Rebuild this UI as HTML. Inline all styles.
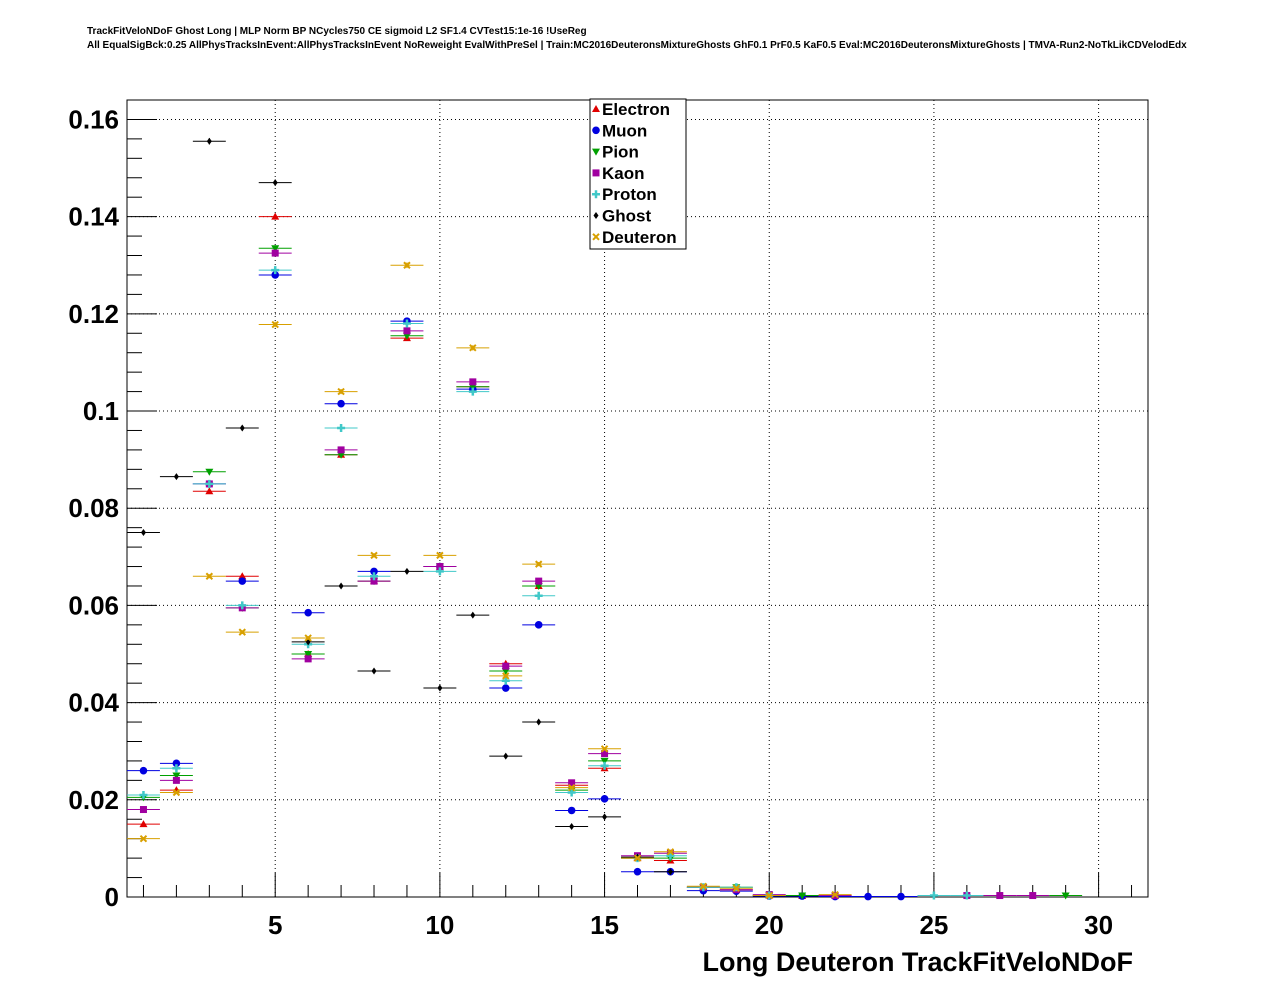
<!DOCTYPE html>
<html><head><meta charset="utf-8">
<style>
html,body{margin:0;padding:0;background:#fff;}
svg{display:block;font-family:"Liberation Sans",Arial,sans-serif;}
</style></head>
<body>
<svg id="c" width="1276" height="996" viewBox="0 0 1276 996">
<text x="87" y="34" font-size="10" font-weight="bold">TrackFitVeloNDoF Ghost Long | MLP Norm BP NCycles750 CE sigmoid L2 SF1.4 CVTest15:1e-16 !UseReg</text>
<text x="87" y="48" font-size="10" font-weight="bold">All EqualSigBck:0.25 AllPhysTracksInEvent:AllPhysTracksInEvent NoReweight EvalWithPreSel | Train:MC2016DeuteronsMixtureGhosts GhF0.1 PrF0.5 KaF0.5 Eval:MC2016DeuteronsMixtureGhosts | TMVA-Run2-NoTkLikCDVelodEdx</text>
<g id="grid"></g>
<g id="axes"></g>
<g id="marks"></g>
<g id="legend"></g>
<text x="1133" y="971" font-size="27" font-weight="bold" text-anchor="end">Long Deuteron TrackFitVeloNDoF</text>
</svg>
<script>
const bins = [1,2,3,4,5,6,7,8,9,10,11,12,13,14,15,16,17,18,19,20,21,22,23,24,25,26,27,28,29];
const electron = [0.015,0.022,0.0835,0.066,0.14,0.050,0.091,0.065,0.115,0.068,0.105,0.048,0.064,0.023,0.0265,0.008,0.0075,0.002,0.0015,0.0003,0.0002,0.0003,0,0,0,0,0,0,0];
const muon = [0.026,0.0275,0.085,0.065,0.128,0.0585,0.1015,0.067,0.1185,0.068,0.1045,0.043,0.056,0.0178,0.0202,0.0052,0.0052,0.0013,0.0012,0.0002,0.0002,0.0001,0.0001,0.0001,0,0,0,0,0];
const pion = [0.0205,0.025,0.0875,0.0595,0.1335,0.050,0.091,0.065,0.1155,0.068,0.105,0.0465,0.064,0.022,0.028,0.008,0.008,0.002,0.002,0.0003,0.0003,0,0,0,0,0,0,0,0.0003];
const kaon = [0.018,0.024,0.085,0.0595,0.1325,0.049,0.092,0.065,0.1165,0.068,0.106,0.0475,0.065,0.0235,0.0295,0.0085,0.009,0.002,0.0015,0.0005,0,0.0003,0,0,0,0.0003,0.0003,0.0003,0];
const proton = [0.021,0.0265,0.085,0.060,0.129,0.052,0.0965,0.066,0.118,0.067,0.104,0.0445,0.062,0.0215,0.027,0.008,0.0085,0.002,0.002,0.0003,0,0,0,0,0.0003,0.0003,0,0,0];
const ghost = [0.075,0.0865,0.1555,0.0965,0.147,0.0525,0.064,0.0465,0.067,0.043,0.058,0.029,0.036,0.0145,0.0165,0.0082,0.0052,0,0,0,0,0,0,0,0,0,0,0,0];
const deuteron = [0.012,0.0215,0.066,0.0545,0.1178,0.0533,0.104,0.0703,0.130,0.0703,0.113,0.0455,0.0685,0.0225,0.0305,0.008,0.0093,0.0022,0.0018,0.0003,0,0.0005,0,0,0,0,0,0,0];
const xTicks = [5,10,15,20,25,30];
const yTicks = [0,0.02,0.04,0.06,0.08,0.1,0.12,0.14,0.16];
const yTickLabels = ["0","0.02","0.04","0.06","0.08","0.1","0.12","0.14","0.16"];
const seriesNames = ["Electron","Muon","Pion","Kaon","Proton","Ghost","Deuteron"];

const NS="http://www.w3.org/2000/svg";
const L=127,R=1148,T=100,B=897;
const xmin=0.5,xmax=31.5,ymin=0,ymax=0.164;
const X=v=>L+(v-xmin)/(xmax-xmin)*(R-L);
const Y=v=>B-(v-ymin)/(ymax-ymin)*(B-T);
function el(tag,attrs,parent){const e=document.createElementNS(NS,tag);for(const k in attrs)e.setAttribute(k,attrs[k]);parent.appendChild(e);return e;}
const grid=document.getElementById('grid'),axes=document.getElementById('axes'),marks=document.getElementById('marks'),legend=document.getElementById('legend');

xTicks.forEach(t=>{const g=el('line',{x1:X(t),x2:X(t),y1:T,y2:B,stroke:'#000','stroke-width':1,'stroke-dasharray':'1,3'},grid);

});
yTicks.forEach(t=>{if(t===0)return;const g=el('line',{x1:L,x2:R,y1:Y(t),y2:Y(t),stroke:'#000','stroke-width':1,'stroke-dasharray':'1,3'},grid);

});

const frame=el('rect',{x:L,y:T,width:R-L,height:B-T,fill:'none',stroke:'#000','stroke-width':1},axes);


for(let v=1;v<=31;v++){const big=v%5===0;el('line',{x1:X(v),x2:X(v),y1:B,y2:B-(big?24:12),stroke:'#000'},axes);}
xTicks.forEach(t=>{const tx=el('text',{x:X(t),y:934,'font-size':26,'font-weight':'bold','text-anchor':'middle'},axes);tx.textContent=t;

});
for(let v=0;v<=0.164;v+=0.004){const big=Math.abs(v/0.02-Math.round(v/0.02))<1e-6;el('line',{x1:L,x2:L+(big?30:15),y1:Y(v),y2:Y(v),stroke:'#000'},axes);}
yTicks.forEach((t,i)=>{const tx=el('text',{x:119,y:Y(t)+9,'font-size':26,'font-weight':'bold','text-anchor':'end'},axes);tx.textContent=yTickLabels[i];

});

const colors=['#e00000','#0000e0','#00a000','#a000a0','#40c8c8','#000000','#d8a000'];
const data=[electron,muon,pion,kaon,proton,ghost,deuteron];
function marker(i,cx,cy,p){
 const c=colors[i];let m;
 if(i===0)m=el('polygon',{points:`${cx},${cy-4} ${cx-4},${cy+3} ${cx+4},${cy+3}`,fill:c},p);
 else if(i===1)m=el('circle',{cx,cy,r:3.8,fill:c},p);
 else if(i===2)m=el('polygon',{points:`${cx},${cy+4} ${cx-4},${cy-3} ${cx+4},${cy-3}`,fill:c},p);
 else if(i===3)m=el('rect',{x:cx-3.5,y:cy-3.5,width:7,height:7,fill:c},p);
 else if(i===4)m=el('path',{d:`M${cx-4} ${cy}H${cx+4}M${cx} ${cy-4}V${cy+4}`,stroke:c,'stroke-width':2.5},p);
 else if(i===5)m=el('polygon',{points:`${cx},${cy-3.5} ${cx-2.5},${cy} ${cx},${cy+3.5} ${cx+2.5},${cy}`,fill:c},p);
 else m=el('path',{d:`M${cx-3} ${cy-3}L${cx+3} ${cy+3}M${cx-3} ${cy+3}L${cx+3} ${cy-3}`,stroke:c,'stroke-width':2},p);
 return m;
}
data.forEach((arr,i)=>{
 const g=el('g',{},marks);
 
 
 arr.forEach((v,j)=>{
  const b=bins[j];
  if(v<=0)return;
  const y=Y(v);
  el('line',{x1:X(b-0.5),x2:X(b+0.5),y1:y,y2:y,stroke:colors[i],'stroke-width':1},g);
  const e=Math.max(1.5,Math.sqrt(v)*8);
  el('line',{x1:X(b),x2:X(b),y1:y-e,y2:y+e,stroke:colors[i],'stroke-width':1},g);
  const m=marker(i,X(b),y,g);
  
  
 });
});

const lb=el('rect',{x:590,y:99,width:96,height:150,fill:'#fff',stroke:'#000'},legend);


seriesNames.forEach((n,i)=>{
 const y=109+i*21.3;
 const g=el('g',{},legend);
 
 
 marker(i,596,y,g);
 const t=el('text',{x:602,y:y+6,'font-size':17,'font-weight':'bold'},g);t.textContent=n;
});
</script>
</body></html>
